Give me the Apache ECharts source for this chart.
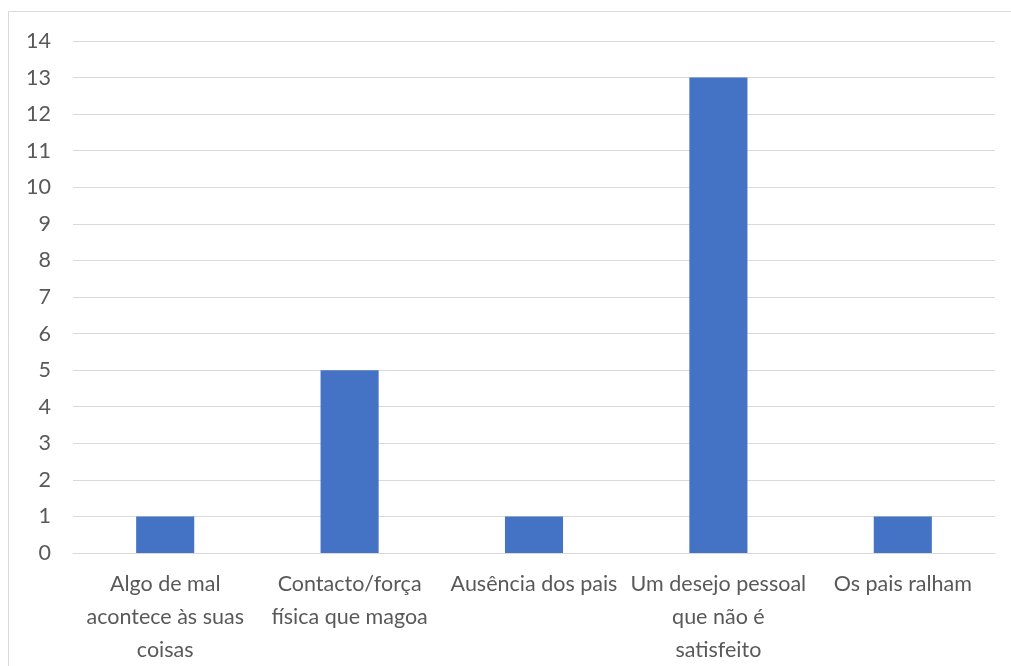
<!DOCTYPE html>
<html>
<head>
<meta charset="utf-8">
<script src="https://cdn.jsdelivr.net/npm/echarts@6/dist/echarts.min.js"></script>
<style>
  html, body { margin: 0; padding: 0; background: #fff; }
  #chart { width: 1011px; height: 666px; }
</style>
</head>
<body>
<div id="chart"></div>
<script>
// Categories (with manual line breaks) and counts per category
const categories = [
  'Algo de mal\nacontece às suas\ncoisas',
  'Contacto/força\nfísica que magoa',
  'Ausência dos pais',
  'Um desejo pessoal\nque não é\nsatisfeito',
  'Os pais ralham'
];
const values = [1, 5, 1, 13, 1];
const yMin = 0, yMax = 14, yStep = 1;

const font = "Lato, 'Open Sans', sans-serif";
const chart = echarts.init(document.getElementById('chart'));
chart.setOption({
  animation: false,
  backgroundColor: '#fff',
  graphic: [{
    type: 'rect',
    shape: { x: 8.5, y: 11.5, width: 1100, height: 700 },
    style: { fill: 'none', stroke: '#d9d9d9', lineWidth: 1 },
    silent: true
  }],
  grid: { left: 73, right: 16, top: 41, bottom: 113, containLabel: false, outerBoundsMode: 'none' },
  xAxis: {
    type: 'category',
    data: categories,
    axisLine: { show: true, lineStyle: { color: '#d9d9d9', width: 1 } },
    axisTick: { show: false },
    axisLabel: {
      interval: 0,
      color: '#595959',
      fontFamily: font,
      fontSize: 21.5,
      lineHeight: 33,
      margin: 15
    }
  },
  yAxis: {
    type: 'value',
    min: yMin, max: yMax, interval: yStep,
    axisLine: { show: false },
    axisTick: { show: false },
    splitLine: { lineStyle: { color: '#d9d9d9', width: 1 } },
    axisLabel: { color: '#595959', fontFamily: font, fontSize: 21.5, margin: 22 }
  },
  series: [{
    type: 'bar',
    data: values,
    barWidth: '31.5%',
    itemStyle: { color: '#4472C4' }
  }]
});
</script>
</body>
</html>
